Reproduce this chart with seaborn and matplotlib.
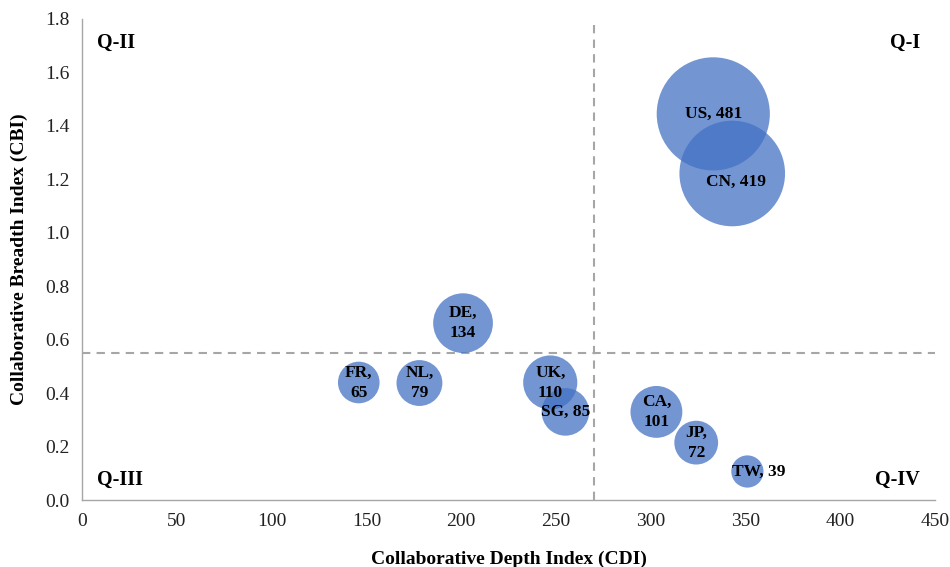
import matplotlib
matplotlib.use("Agg")
import matplotlib.pyplot as plt
import seaborn as sns
import pandas as pd

countries = ["US", "CN", "DE", "FR", "NL", "UK", "SG", "CA", "JP", "TW"]
cdi = [333, 343, 201, 146, 178, 247, 255, 303, 324, 351]
cbi = [1.445, 1.222, 0.662, 0.44, 0.438, 0.44, 0.33, 0.33, 0.215, 0.107]
papers = [481, 419, 134, 65, 79, 110, 85, 101, 72, 39]
labels = ["US, 481", "CN, 419", "DE,\n134", "FR,\n65", "NL,\n79",
          "UK,\n110", "SG, 85", "CA,\n101", "JP,\n72", "TW, 39"]

cdi_cut = 270
cbi_cut = 0.55

df = pd.DataFrame({"country": countries, "CDI": cdi, "CBI": cbi, "n": papers})

sns.set_style("white")
plt.rcParams["font.family"] = ["Liberation Serif", "DejaVu Serif"]
plt.rcParams["text.color"] = "black"
plt.rcParams["axes.labelcolor"] = "black"

fig = plt.figure(figsize=(9.5, 5.67), dpi=100)
ax = fig.add_axes([0.0863, 0.118, 0.898, 0.8485])

k = 13.8
sns.scatterplot(data=df, x="CDI", y="CBI", size="n",
                sizes=(min(papers) * k, max(papers) * k),
                size_norm=(min(papers), max(papers)),
                color="#4472C4", alpha=0.75, edgecolor="none",
                legend=False, ax=ax, zorder=3)

for x, y, lab in zip(cdi, cbi, labels):
    if lab.startswith("TW"):
        ax.text(x - 8, y, lab, ha="left", va="center", fontsize=12.5,
                fontweight="bold", zorder=4)
    elif lab.startswith("CN"):
        ax.text(x + 2, y - 0.03, lab, ha="center", va="center", fontsize=12.5,
                fontweight="bold", zorder=4)
    else:
        ax.text(x, y, lab, ha="center", va="center", fontsize=12.5,
                fontweight="bold", zorder=4, linespacing=1.35)

ax.axvline(cdi_cut, color="#A6A6A6", linestyle=(0, (4, 3)), lw=1.5, zorder=1)
ax.axhline(cbi_cut, color="#A6A6A6", linestyle=(0, (4, 3)), lw=1.5, zorder=1)

qkw = dict(fontsize=14.5, fontweight="bold")
ax.text(8, 1.71, "Q-II", ha="left", va="center", **qkw)
ax.text(442, 1.71, "Q-I", ha="right", va="center", **qkw)
ax.text(8, 0.075, "Q-III", ha="left", va="center", **qkw)
ax.text(442, 0.075, "Q-IV", ha="right", va="center", **qkw)

ax.set_xlim(0, 450)
ax.set_ylim(0, 1.8)
ax.set_xticks(range(0, 451, 50))
ax.set_yticks([i * 0.2 for i in range(10)])
ax.set_yticklabels([f"{i * 0.2:.1f}" for i in range(10)])

for s in ["top", "right"]:
    ax.spines[s].set_visible(False)
for s in ["left", "bottom"]:
    ax.spines[s].set_color("#A6A6A6")
    ax.spines[s].set_linewidth(1.0)
ax.tick_params(axis="both", direction="out", length=4, color="#A6A6A6",
               labelcolor="#222222", labelsize=14, width=1, pad=5)

ax.set_xlabel("Collaborative Depth Index (CDI)", fontsize=14,
              fontweight="bold", labelpad=15)
ax.set_ylabel("Collaborative Breadth Index (CBI)", fontsize=14,
              fontweight="bold", labelpad=12)

fig.savefig("out.png", dpi=100)
